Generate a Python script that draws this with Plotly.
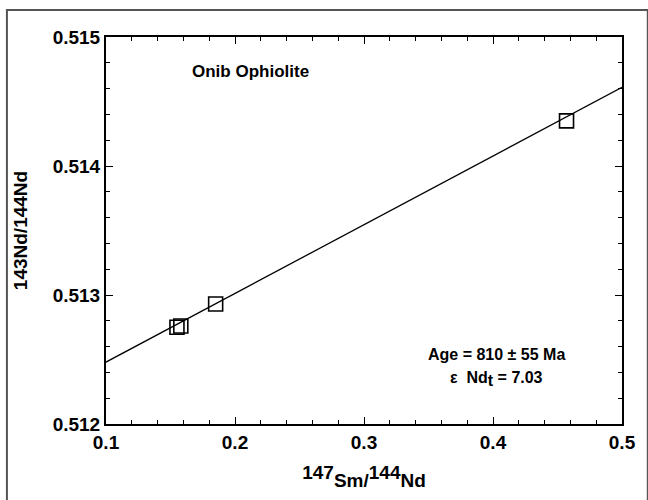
import plotly.graph_objects as go

sm_nd = [0.155, 0.158, 0.185, 0.457]
nd_nd = [0.51275, 0.51276, 0.51293, 0.51435]
line_x = [0.1, 0.5]
line_y = [0.51248, 0.51461]
x_ticks = [0.1, 0.2, 0.3, 0.4, 0.5]
y_ticks = [0.512, 0.513, 0.514, 0.515]

font = "Liberation Sans, Arial, sans-serif"

fig = go.Figure()
fig.add_trace(go.Scatter(x=line_x, y=line_y, mode="lines",
                         line=dict(color="black", width=1.3), showlegend=False))
fig.add_trace(go.Scatter(x=sm_nd, y=nd_nd, mode="markers",
                         marker=dict(symbol="square-open", size=14, color="black",
                                     line=dict(width=1.6, color="black")),
                         showlegend=False))

axis_common = dict(showline=True, linecolor="black", linewidth=2, mirror="allticks",
                   ticks="inside", ticklen=7, tickwidth=1, tickcolor="black",
                   showgrid=False, zeroline=False, ticklabeloverflow="allow",
                   tickfont=dict(family=font, size=19, color="black", weight="bold"))

fig.update_xaxes(range=[0.1, 0.5], tickvals=x_ticks,
                 ticktext=[f"{v:g}" for v in x_ticks],
                 minor=dict(ticks="inside", ticklen=4, dtick=0.02, tickcolor="black", showgrid=False),
                 title=dict(text="<b><sup><span style='font-size:19px'>147</span></sup>Sm/<sup><span style='font-size:19px'>144</span></sup>Nd</b>",
                            font=dict(family=font, size=19, color="black"), standoff=22),
                 **axis_common)
fig.update_yaxes(range=[0.512, 0.515], tickvals=y_ticks,
                 ticktext=[f"{v:.3f}" for v in y_ticks],
                 minor=dict(ticks="inside", ticklen=4, dtick=0.0002, tickcolor="black", showgrid=False),
                 title=dict(text="<b>143Nd/144Nd</b>",
                            font=dict(family=font, size=19, color="black"), standoff=20),
                 **axis_common)

fig.add_annotation(x=0.212, y=0.51473, text="<b>Onib Ophiolite</b>", showarrow=False,
                   font=dict(family=font, size=17, color="black"))
fig.add_annotation(x=0.403, y=0.51254, text="<b>Age = 810 ± 55 Ma</b>", showarrow=False,
                   font=dict(family=font, size=16, color="black"))
fig.add_annotation(x=0.403, y=0.51235,
                   text="<b>ε  Nd<sub><span style='font-size:16px'>t</span></sub> = 7.03</b>",
                   showarrow=False, font=dict(family=font, size=16, color="black"))

fig.add_shape(type="rect", xref="paper", yref="paper", x0=-0.192, y0=-0.22, x1=1.05, y1=1.07,
              line=dict(color="#555555", width=2), fillcolor="rgba(0,0,0,0)")

fig.update_layout(width=648, height=500, plot_bgcolor="white", paper_bgcolor="white",
                  margin=dict(l=106, r=12, t=37, b=68), showlegend=False)

fig.write_html("out.html", post_script="document.body.style.margin='0';",
               config={"displayModeBar": False})
